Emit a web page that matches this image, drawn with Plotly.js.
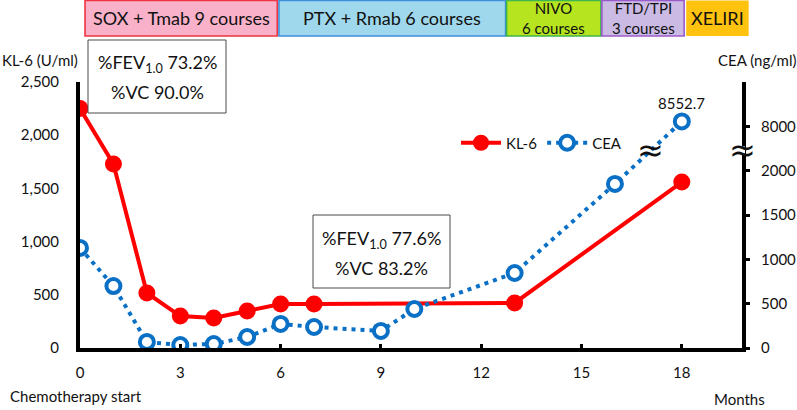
<!DOCTYPE html>
<html>
<head>
<meta charset="utf-8">
<script src="https://cdn.plot.ly/plotly-3.0.1.min.js"></script>
<style>
  html, body { margin: 0; padding: 0; background: #fff; }
  #chart { width: 797px; height: 410px; }
</style>
</head>
<body>
<div id="chart"></div>
<script>
// Months since the start of chemotherapy
const klMonths = [0, 1, 2, 3, 4, 5, 6, 7, 13, 18];
const klValues = [2250, 1730, 517, 300, 282, 348, 414, 414, 423, 1560];

const ceaMonths = [0, 1, 2, 3, 4, 5, 6, 7, 9, 10, 13, 16, 18];
const ceaValues = [1128, 699, 68, 34, 45, 124, 271, 237, 192, 440, 846, 1850, 8552.7];

const xTickVals = [0, 3, 6, 9, 12, 15, 18];
const klTickVals = [0, 500, 1000, 1500, 2000, 2500];
const ceaTickLabels = [0, 500, 1000, 1500, 2000, 8000];

// Treatment regimens shown above the plot: [label, startMonth, endMonth]
const regimens = [
  ["SOX + Tmab 9 courses", 0.15, 5.9],
  ["PTX + Rmab 6 courses", 5.95, 12.73],
  ["NIVO<br>6 courses", 12.76, 15.58],
  ["FTD/TPI<br>3 courses", 15.61, 18.07],
  ["XELIRI", 18.13, 20.0]
];

// Pulmonary function results (two lines each)
const pftNotes = [
  ["%FEV<sub>1.0</sub> 73.2%", "%VC 90.0%"],
  ["%FEV<sub>1.0</sub> 77.6%", "%VC 83.2%"]
];

// CEA axis is broken above 2000: values beyond the break are compressed.
const BREAK_LOW = 2000, BREAK_HIGH = 8000, BREAK_POS = 2500, HIGH_SCALE = 0.1;
function ceaToAxis(v) {
  return v <= BREAK_LOW ? v : BREAK_POS + (v - BREAK_HIGH) * HIGH_SCALE;
}

// Plot frame in pixels
const L = 80, R = 742, T = 82, B = 348, W = 797, H = 410;
const px2x = p => (p - L) / (R - L);
const py2y = p => (B - p) / (B - T);
const XMAX = 19.8;
const m2px = m => L + m / XMAX * (R - L);

const FONT = "Lato, 'Open Sans', sans-serif";

const regimenStyle = [
  { fill: "#f9b1c9", line: "#ee3341" },
  { fill: "#9fd8ec", line: "#3d8fd9" },
  { fill: "#b6e51f", line: "#3fb54e" },
  { fill: "#cabae4", line: "#9a5ccc" },
  { fill: "#ffc20f", line: "rgba(0,0,0,0)" }
];

// Note boxes in pixels: left, right, top, bottom, and the two text line centres
const pftBoxes = [
  { x0: 88, x1: 226, y0: 40, y1: 113, line1: 63, line2: 92 },
  { x0: 313, x1: 450, y0: 215, y1: 288, line1: 239, line2: 268 }
];

const shapes = [];
const annotations = [];

regimens.forEach((r, i) => {
  const x0 = px2x(m2px(r[1])), x1 = px2x(m2px(r[2]));
  shapes.push({
    type: "rect", xref: "paper", yref: "paper",
    x0: x0, x1: x1, y0: py2y(36), y1: py2y(0.5),
    fillcolor: regimenStyle[i].fill,
    line: { color: regimenStyle[i].line, width: 1.6 }
  });
  const twoLines = r[0].indexOf("<br>") >= 0;
  annotations.push({
    xref: "paper", yref: "paper", x: (x0 + x1) / 2, y: py2y(18),
    text: r[0], showarrow: false, xanchor: "center", yanchor: "middle",
    font: { family: FONT, size: twoLines ? 15 : 18, color: "#111" },
    align: "center"
  });
});

pftNotes.forEach((n, i) => {
  const b = pftBoxes[i];
  shapes.push({
    type: "rect", xref: "paper", yref: "paper", layer: "above",
    x0: px2x(b.x0), x1: px2x(b.x1), y0: py2y(b.y1), y1: py2y(b.y0),
    fillcolor: "#ffffff", line: { color: "#4a4a4a", width: 1 }
  });
  [n[0], n[1]].forEach((t, k) => {
    annotations.push({
      xref: "paper", yref: "paper", x: px2x((b.x0 + b.x1) / 2),
      y: py2y(k === 0 ? b.line1 : b.line2),
      text: t, showarrow: false, xanchor: "center", yanchor: "middle",
      font: { family: FONT, size: 18, color: "#111" }
    });
  });
});

// Axis titles and footnotes
annotations.push(
  { xref: "paper", yref: "paper", x: px2x(40), y: py2y(60), text: "KL-6 (U/ml)",
    showarrow: false, xanchor: "center", yanchor: "middle",
    font: { family: FONT, size: 15, color: "#111" } },
  { xref: "paper", yref: "paper", x: px2x(757), y: py2y(60), text: "CEA (ng/ml)",
    showarrow: false, xanchor: "center", yanchor: "middle",
    font: { family: FONT, size: 15, color: "#111" } },
  { xref: "paper", yref: "paper", x: px2x(8), y: py2y(396), text: "Chemotherapy start",
    showarrow: false, xanchor: "left", yanchor: "middle",
    font: { family: FONT, size: 15, color: "#111" } },
  { xref: "paper", yref: "paper", x: px2x(739), y: py2y(399), text: "Months",
    showarrow: false, xanchor: "center", yanchor: "middle",
    font: { family: FONT, size: 15, color: "#111" } }
);

// Value label on the last CEA point
const lastIdx = ceaValues.length - 1;
annotations.push({
  xref: "x", yref: "y2", x: ceaMonths[lastIdx], y: ceaToAxis(ceaValues[lastIdx]),
  text: String(ceaValues[lastIdx]), showarrow: false, yanchor: "bottom", yshift: 7,
  font: { family: FONT, size: 15, color: "#111" }
});

// Break marks on the CEA line and on the CEA axis
const breakY = 2233;
annotations.push(
  { xref: "x", yref: "y2", x: 17.05, y: breakY, text: "≈", showarrow: false,
    xanchor: "center", yanchor: "middle",
    font: { family: "DejaVu Sans", size: 32, color: "#111" } },
  { xref: "paper", yref: "y2", x: 1, y: breakY, text: "≈", showarrow: false,
    xanchor: "center", yanchor: "middle",
    font: { family: "DejaVu Sans", size: 32, color: "#111" } }
);
// white gap in the right axis line behind the break mark
shapes.push({
  type: "rect", xref: "paper", yref: "y2", layer: "above",
  x0: px2x(739), x1: px2x(745), y0: breakY - 40, y1: breakY + 40,
  fillcolor: "#ffffff", line: { width: 0 }
});

const traces = [
  {
    x: klMonths, y: klValues, name: "KL-6", type: "scatter", mode: "lines+markers",
    line: { color: "#ff0000", width: 4 },
    marker: { color: "#ff0000", size: 17, symbol: "circle" },
    yaxis: "y"
  },
  {
    x: ceaMonths, y: ceaValues.map(ceaToAxis), name: "CEA", type: "scatter",
    mode: "lines+markers",
    line: { color: "#0a70c6", width: 4, dash: "4px,5px" },
    marker: { color: "#ffffff", size: 14, symbol: "circle",
              line: { color: "#0a70c6", width: 4 } },
    yaxis: "y2"
  }
];

const layout = {
  width: W, height: H,
  margin: { l: L, r: W - R, t: T, b: H - B, pad: 0 },
  paper_bgcolor: "#ffffff", plot_bgcolor: "#ffffff",
  font: { family: FONT, size: 15, color: "#111" },
  showlegend: true,
  legend: {
    orientation: "h", x: px2x(456), y: py2y(143), xanchor: "left", yanchor: "middle",
    font: { family: FONT, size: 15, color: "#111" }, bgcolor: "rgba(0,0,0,0)",
    itemwidth: 40
  },
  xaxis: {
    range: [0, XMAX], tickvals: xTickVals, showgrid: false, zeroline: false,
    showline: true, linecolor: "#000", linewidth: 4,
    ticks: "inside", ticklen: 4, tickwidth: 3, tickcolor: "#000",
    ticklabelstandoff: 8,
    tickfont: { family: FONT, size: 15, color: "#111" }
  },
  yaxis: {
    range: [0, 2500], tickvals: klTickVals, tickformat: ",", showgrid: false,
    zeroline: false, showline: true, linecolor: "#000", linewidth: 4,
    ticks: "", ticklabelstandoff: 14,
    tickfont: { family: FONT, size: 15, color: "#111" }
  },
  yaxis2: {
    overlaying: "y", side: "right", range: [0, 3000],
    tickvals: ceaTickLabels.map(ceaToAxis), ticktext: ceaTickLabels.map(String),
    showgrid: false, zeroline: false, showline: true, linecolor: "#000", linewidth: 4,
    ticks: "outside", ticklen: 4, tickwidth: 3, tickcolor: "#000",
    ticklabelstandoff: 8,
    tickfont: { family: FONT, size: 15, color: "#111" }
  },
  shapes: shapes,
  annotations: annotations
};

Plotly.newPlot("chart", traces, layout, { displayModeBar: false, staticPlot: true });
</script>
</body>
</html>
